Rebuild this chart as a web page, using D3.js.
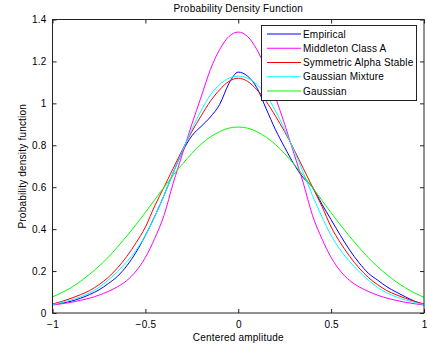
<!DOCTYPE html>
<html><head><meta charset="utf-8">
<script src="https://cdn.jsdelivr.net/npm/d3@7"></script>
<style>
html,body{margin:0;padding:0;background:#fff;}
svg text{font-family:"Liberation Sans",Arial,sans-serif;fill:#000;letter-spacing:0.2px;}
</style></head>
<body><div id="chart"></div>
<script>
const xValues = [-1,-0.95,-0.9,-0.85,-0.8,-0.75,-0.7,-0.65,-0.6,-0.55,-0.5,-0.45,-0.4,-0.35,-0.3,-0.25,-0.2,-0.15,-0.1,-0.05,0,
 0.05,0.1,0.15,0.2,0.25,0.3,0.35,0.4,0.45,0.5,0.55,0.6,0.65,0.7,0.75,0.8,0.85,0.9,0.95,1];
const empirical = [0.04,0.047,0.056,0.07,0.088,0.11,0.14,0.175,0.225,0.29,0.37,0.46,0.56,0.67,0.77,0.845,0.89,0.935,0.995,1.095,1.149,
 1.13,1.075,0.975,0.875,0.79,0.71,0.645,0.60,0.52,0.445,0.37,0.30,0.24,0.19,0.157,0.125,0.10,0.077,0.056,0.04];
const middleton = [0.038,0.044,0.051,0.06,0.071,0.085,0.103,0.125,0.155,0.2,0.265,0.355,0.465,0.62,0.76,0.90,1.03,1.161,1.257,1.319,1.34,
 1.319,1.257,1.161,1.03,0.90,0.76,0.62,0.465,0.355,0.265,0.2,0.155,0.125,0.103,0.085,0.071,0.06,0.051,0.044,0.038];
const alphaStable = [0.043,0.055,0.07,0.087,0.107,0.135,0.17,0.215,0.27,0.335,0.41,0.51,0.60,0.69,0.78,0.865,0.94,1.01,1.065,1.105,1.12,
 1.105,1.065,1.01,0.94,0.865,0.78,0.69,0.60,0.51,0.41,0.335,0.27,0.215,0.17,0.135,0.107,0.087,0.07,0.055,0.043];
const gaussMixture = [0.04,0.05,0.062,0.077,0.096,0.122,0.157,0.198,0.245,0.30,0.37,0.46,0.56,0.67,0.775,0.875,0.965,1.04,1.09,1.12,1.13,
 1.12,1.09,1.04,0.965,0.875,0.775,0.67,0.56,0.46,0.37,0.30,0.245,0.198,0.157,0.122,0.096,0.077,0.062,0.05,0.04];
const gaussian = [0.077,0.097,0.121,0.151,0.185,0.223,0.266,0.315,0.367,0.422,0.480,0.540,0.599,0.657,0.711,0.761,0.805,0.840,0.865,0.882,0.887,
 0.882,0.865,0.839,0.804,0.760,0.710,0.656,0.598,0.538,0.478,0.420,0.365,0.313,0.264,0.221,0.183,0.149,0.120,0.0955,0.075];
const seriesNames = ["Empirical","Middleton Class A","Symmetric Alpha Stable","Gaussian Mixture","Gaussian"];
const seriesColors = ["#0000ff","#ff00ff","#ff0000","#00ffff","#00ff00"];
const seriesValues = [empirical, middleton, alphaStable, gaussMixture, gaussian];
const xTicks = [-1,-0.5,0,0.5,1];
const yTicks = [0,0.2,0.4,0.6,0.8,1,1.2,1.4];
const titleText = "Probability Density Function";
const xLabel = "Centered amplitude";
const yLabel = "Probability density function";

const W = 427, H = 347;
const L = 52.5, R = 424, T = 19.5, B = 313;
const svg = d3.select("#chart").append("svg").attr("width", W).attr("height", H);
svg.append("rect").attr("width", W).attr("height", H).attr("fill", "#fff");

const x = d3.scaleLinear().domain([-1, 1]).range([L, R]);
const y = d3.scaleLinear().domain([0, 1.4]).range([B, T]);

const fmt = d => d3.format("")(+d.toFixed(2));
const fs = "10px";
const gx = svg.append("g").attr("transform", `translate(0,${B})`)
  .call(d3.axisBottom(x).tickValues(xTicks).tickSizeInner(-4).tickSizeOuter(0).tickPadding(8).tickFormat(fmt));
const gxt = svg.append("g").attr("transform", `translate(0,${T})`)
  .call(d3.axisTop(x).tickValues(xTicks).tickSizeInner(-4).tickSizeOuter(0).tickFormat(""));
const gy = svg.append("g").attr("transform", `translate(${L},0)`)
  .call(d3.axisLeft(y).tickValues(yTicks).tickSizeInner(-4).tickSizeOuter(0).tickPadding(6).tickFormat(fmt));
const gyr = svg.append("g").attr("transform", `translate(${R},0)`)
  .call(d3.axisRight(y).tickValues(yTicks).tickSizeInner(-4).tickSizeOuter(0).tickFormat(""));
[gx,gxt,gy,gyr].forEach(g => {
  g.select(".domain").remove();
  g.selectAll("line").attr("stroke", "#222");
  g.selectAll("text").attr("font-size", fs).attr("font-family", "Liberation Sans, Arial, sans-serif").attr("fill", "#000");
});

const clip = svg.append("clipPath").attr("id", "clp").append("rect")
  .attr("x", L).attr("y", T).attr("width", R - L).attr("height", B - T);
const line = d3.line().x((d, i) => x(xValues[i])).y(d => y(d)).curve(d3.curveMonotoneX);
svg.append("g").attr("clip-path", "url(#clp)").selectAll("path").data(seriesValues).join("path")
  .attr("d", line).attr("fill", "none").attr("stroke", (d, i) => seriesColors[i]).attr("stroke-width", 1);

svg.append("rect").attr("x", L).attr("y", T).attr("width", R - L).attr("height", B - T)
  .attr("fill", "none").attr("stroke", "#222").attr("stroke-width", 1);

svg.append("text").attr("x", (L + R) / 2).attr("y", 12).attr("text-anchor", "middle").attr("font-size", fs).text(titleText);
svg.append("text").attr("x", (L + R) / 2).attr("y", 341).attr("text-anchor", "middle").attr("font-size", fs).text(xLabel);
svg.append("text").attr("transform", `translate(26,${(T + B) / 2}) rotate(-90)`).attr("text-anchor", "middle").attr("font-size", fs).text(yLabel);

const lg = svg.append("g");
lg.append("rect").attr("x", 261.5).attr("y", 25.5).attr("width", 155).attr("height", 75)
  .attr("fill", "#fff").attr("stroke", "#222").attr("stroke-width", 1);
const rowY = d3.scaleLinear().domain([0, 4]).range([34, 91]);
seriesNames.forEach((n, i) => {
  lg.append("line").attr("x1", 267).attr("x2", 301).attr("y1", rowY(i)).attr("y2", rowY(i))
    .attr("stroke", seriesColors[i]).attr("stroke-width", 1);
  lg.append("text").attr("x", 303).attr("y", rowY(i) + 3.5).attr("font-size", fs).text(n);
});
</script></body></html>
